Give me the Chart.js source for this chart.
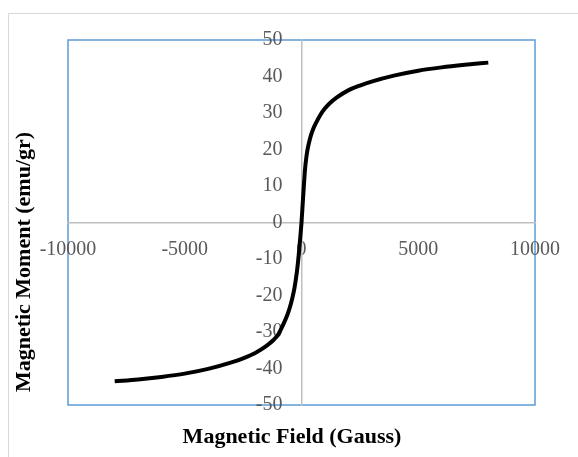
<!DOCTYPE html>
<html>
<head>
<meta charset="utf-8">
<script src="https://cdn.jsdelivr.net/npm/chart.js@4.4.1/dist/chart.umd.min.js"></script>
<style>
  html, body { margin: 0; padding: 0; background: #fff; }
  #wrap { position: relative; width: 578px; height: 457px; overflow: hidden; }
  #frame { position: absolute; left: 8px; top: 13px; width: 640px; height: 520px; border: 1px solid #d9d9d9; }
  #chart { position: absolute; left: 0; top: 0; }
</style>
</head>
<body>
<div id="wrap">
  <div id="frame"></div>
  <canvas id="chart" width="578" height="457"></canvas>
</div>
<script>
// M-H loop, field in Gauss, moment in emu/gr
const fieldValues = [-8000, -7000, -6000, -5000, -4000, -3000, -2500, -2000, -1500, -1200, -1000, -800, -600, -500, -400, -300, -200, -150, -100, -50, 0,
  50, 100, 150, 200, 250, 300, 400, 500, 600, 800, 1000, 1200, 1500, 2000, 2500, 3000, 4000, 5000, 6000, 7000, 8000];
const momentValues = [-43.5, -43.0, -42.3, -41.4, -40.1, -38.3, -37.2, -35.8, -33.8, -32.2, -30.7, -28.2, -25.2, -23.3, -20.9, -17.9, -13.6, -10.9, -7.6, -3.9, 0,
  5.0, 10.0, 14.5, 17.5, 19.7, 21.3, 23.8, 25.6, 27.0, 29.4, 31.2, 32.6, 34.2, 36.2, 37.5, 38.6, 40.3, 41.6, 42.5, 43.2, 43.8];

const xTicks = [-10000, -5000, 0, 5000, 10000];
const yTicks = [-50, -40, -30, -20, -10, 0, 10, 20, 30, 40, 50];

const xTitle = 'Magnetic Field (Gauss)';
const yTitle = 'Magnetic Moment (emu/gr)';

const points = fieldValues.map((h, i) => ({ x: h, y: momentValues[i] }));

// ─── Plot frame + axis titles ─────────────────────────────

const framePlugin = {
  id: 'frame',
  beforeDraw(chart) {
    const { ctx, chartArea: a } = chart;
    ctx.save();
    ctx.strokeStyle = '#5b9bd5';
    ctx.lineWidth = 1.5;
    ctx.strokeRect(a.left, a.top, a.right - a.left, a.bottom - a.top);
    ctx.restore();
  },
  afterDraw(chart) {
    const ctx = chart.ctx;
    ctx.save();
    ctx.fillStyle = '#000';
    ctx.font = 'bold 22px "Liberation Serif"';
    ctx.textAlign = 'center';
    ctx.textBaseline = 'middle';
    ctx.fillText(xTitle, 292, 437);
    ctx.translate(24, 262);
    ctx.rotate(-Math.PI / 2);
    ctx.fillText(yTitle, 0, 0);
    ctx.restore();
  }
};

const tickFont = { family: '"Liberation Serif"', size: 20 };
const plain = v => String(v);

new Chart(document.getElementById('chart').getContext('2d'), {
  type: 'scatter',
  data: {
    datasets: [{
      data: points,
      showLine: true,
      borderColor: '#000',
      borderWidth: 4,
      pointRadius: 0,
      cubicInterpolationMode: 'monotone'
    }]
  },
  options: {
    responsive: false,
    animation: false,
    layout: { padding: { left: 68, right: 43, top: 40, bottom: 52 } },
    plugins: { legend: { display: false }, tooltip: { enabled: false } },
    scales: {
      x: {
        type: 'linear',
        position: 'center',
        min: xTicks[0],
        max: xTicks[xTicks.length - 1],
        afterBuildTicks: s => { s.ticks = xTicks.map(v => ({ value: v })); },
        grid: { display: false, drawTicks: false },
        border: { display: true, color: '#bfbfbf', width: 1.5 },
        ticks: { autoSkip: false, maxRotation: 0, padding: 15, color: '#595959', font: tickFont, callback: plain }
      },
      y: {
        type: 'linear',
        position: 'center',
        min: yTicks[0],
        max: yTicks[yTicks.length - 1],
        afterBuildTicks: s => { s.ticks = yTicks.map(v => ({ value: v })); },
        grid: { display: false, drawTicks: false },
        border: { display: true, color: '#bfbfbf', width: 1.5 },
        ticks: { autoSkip: false, padding: 19, color: '#595959', font: tickFont, callback: plain }
      }
    }
  },
  plugins: [framePlugin]
});
</script>
</body>
</html>
